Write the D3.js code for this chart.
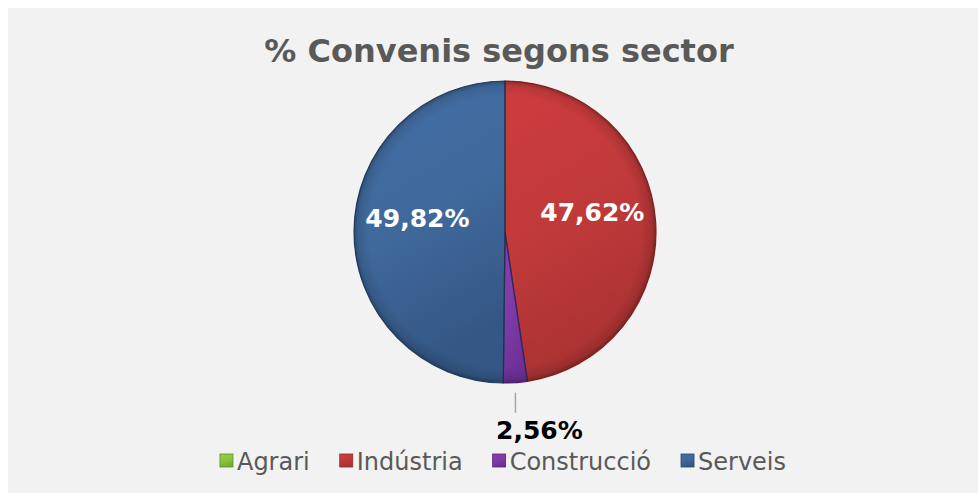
<!DOCTYPE html>
<html>
<head>
<meta charset="utf-8">
<script src="https://cdn.jsdelivr.net/npm/d3@7"></script>
<style>
  html, body { margin: 0; padding: 0; background: #ffffff; }
  svg { display: block; font-family: "DejaVu Sans", Verdana, sans-serif; }
</style>
</head>
<body>
<div id="chart"></div>
<script>
const sectors = ["Agrari", "Indústria", "Construcció", "Serveis"];
const shares = [0, 47.62, 2.56, 49.82];
const labels = ["0,00%", "47,62%", "2,56%", "49,82%"];
const baseColors = ["#8cc43f", "#c0393a", "#7e3ba8", "#3f689b"];
const darkColors = ["#5f8d25", "#8f2a29", "#582580", "#26436b"];

const W = 978, H = 493;
const svg = d3.select('#chart').append('svg')
  .attr('width', W)
  .attr('height', H);

// panel
svg.append('rect')
  .attr('x', 8).attr('y', 8)
  .attr('width', W - 8).attr('height', H - 8)
  .attr('fill', '#f2f2f2');

svg.append('text')
  .attr('x', 499).attr('y', 62)
  .attr('text-anchor', 'middle')
  .attr('font-size', '32px')
  .attr('font-weight', 'bold')
  .attr('fill', '#595959')
  .text('% Convenis segons sector');

const defs = svg.append('defs');
sectors.forEach((s, i) => {
  const g = defs.append('linearGradient')
    .attr('id', 'grad' + i)
    .attr('x1', 0).attr('y1', 0).attr('x2', 0.3).attr('y2', 1);
  g.append('stop').attr('offset', '0%').attr('stop-color', d3.color(baseColors[i]).brighter(0.2));
  g.append('stop').attr('offset', '55%').attr('stop-color', baseColors[i]);
  g.append('stop').attr('offset', '100%').attr('stop-color', d3.interpolateRgb(baseColors[i], darkColors[i])(0.45));
});
// bevel rim
const rim = defs.append('radialGradient').attr('id', 'rim')
  .attr('cx', 0.5).attr('cy', 0.5).attr('r', 0.5);
rim.append('stop').attr('offset', '90%').attr('stop-color', '#000').attr('stop-opacity', 0);
rim.append('stop').attr('offset', '97%').attr('stop-color', '#000').attr('stop-opacity', 0.1);
rim.append('stop').attr('offset', '100%').attr('stop-color', '#000').attr('stop-opacity', 0.28);

const cx = 505, cy = 232, radius = 151;
const pie = d3.pie().sort(null).value(d => d);
const arc = d3.arc().innerRadius(0).outerRadius(radius);
const labelArc = d3.arc().innerRadius(radius * 0.58).outerRadius(radius * 0.58);

const container = svg.append('g')
  .attr('transform', `translate(${cx},${cy})`);

const slices = pie(shares);

container.selectAll('path.slice')
  .data(slices)
  .enter().append('path')
  .attr('class', 'slice')
  .attr('d', arc)
  .attr('fill', (d, i) => `url(#grad${i})`)
  .attr('stroke', (d, i) => darkColors[i])
  .attr('stroke-width', 1.2)
  .attr('stroke-linejoin', 'round');

container.append('circle').attr('r', radius).attr('fill', 'url(#rim)');

// slice separators
container.selectAll('line.sep')
  .data(slices.filter(d => d.value > 0))
  .enter().append('line')
  .attr('class', 'sep')
  .attr('x1', 0).attr('y1', 0)
  .attr('x2', d => radius * Math.sin(d.startAngle))
  .attr('y2', d => -radius * Math.cos(d.startAngle))
  .attr('stroke', '#1e2c40')
  .attr('stroke-opacity', 0.7)
  .attr('stroke-width', 1.2);

// inside labels
container.selectAll('text.inlabel')
  .data(slices.filter(d => d.value > 10))
  .enter().append('text')
  .attr('class', 'inlabel')
  .attr('x', d => labelArc.centroid(d)[0])
  .attr('y', d => labelArc.centroid(d)[1] - 13)
  .attr('dy', '0.35em')
  .attr('text-anchor', 'middle')
  .attr('font-size', '25px')
  .attr('font-weight', 'bold')
  .attr('fill', '#ffffff')
  .text(d => labels[d.index]);

// outside label with leader line
const small = slices.filter(d => d.value > 0 && d.value < 10);
small.forEach(d => {
  const a = (d.startAngle + d.endAngle) / 2;
  const x0 = radius * Math.sin(a);
  const y0 = -radius * Math.cos(a);
  container.append('line')
    .attr('x1', x0).attr('y1', y0 + 10)
    .attr('x2', x0).attr('y2', y0 + 30)
    .attr('stroke', '#a6a6a6')
    .attr('stroke-width', 1.5);
  container.append('text')
    .attr('x', x0 + 24)
    .attr('y', y0 + 56)
    .attr('text-anchor', 'middle')
    .attr('font-size', '25px')
    .attr('font-weight', 'bold')
    .attr('fill', '#000000')
    .text(labels[d.index]);
});

// legend
const legend = svg.append('g').attr('class', 'legend');
const items = legend.selectAll('g.item')
  .data(sectors)
  .enter().append('g')
  .attr('class', 'item');

items.append('rect')
  .attr('width', 13).attr('height', 13)
  .attr('y', -16)
  .attr('fill', (d, i) => `url(#grad${i})`)
  .attr('stroke', (d, i) => darkColors[i])
  .attr('stroke-width', 0.8);

items.append('text')
  .attr('x', 17)
  .attr('font-size', '24px')
  .attr('fill', '#595959')
  .text(d => d);

let offset = 0;
const gap = 30;
items.each(function () {
  const w = this.getBBox().width;
  d3.select(this).attr('transform', `translate(${offset},0)`);
  offset += w + gap;
});
const totalW = offset - gap;
legend.attr('transform', `translate(${503 - totalW / 2},470)`);
</script>
</body>
</html>
